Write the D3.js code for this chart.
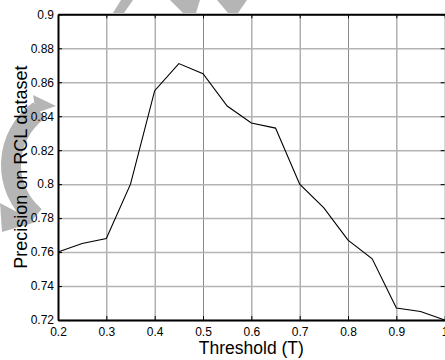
<!DOCTYPE html>
<html>
<head>
<meta charset="utf-8">
<script src="https://cdn.jsdelivr.net/npm/d3@7"></script>
<style>
body { margin: 0; background: #fff; }
svg { display: block; }
text { font-family: Arial, "Liberation Sans", sans-serif; fill: #000; }
</style>
</head>
<body>
<svg id="chart" width="445" height="360"></svg>
<script>
// values
var thresholds = [0.2, 0.25, 0.3, 0.35, 0.4, 0.45, 0.5, 0.55, 0.6, 0.65, 0.7, 0.75, 0.8, 0.85, 0.9, 0.95, 1.0];
var precision = [0.760, 0.765, 0.768, 0.800, 0.855, 0.871, 0.865, 0.846, 0.836, 0.833, 0.800, 0.786, 0.767, 0.756, 0.727, 0.725, 0.720];
var xTicks = [0.2, 0.3, 0.4, 0.5, 0.6, 0.7, 0.8, 0.9, 1];
var yTicks = [0.72, 0.74, 0.76, 0.78, 0.8, 0.82, 0.84, 0.86, 0.88, 0.9];

var svg = d3.select("#chart");
var boxLeft = 58, boxTop = 14.3, boxRight = 444.7, boxBottom = 320;
var w = boxRight - boxLeft, h = boxBottom - boxTop;

// grey watermark behind the axes (covered inside the plot box)
var mark = svg.append("g").attr("fill", "#b5b5b5");
mark.append("path")
    .attr("transform", "translate(78,165)")
    .attr("d", d3.arc().innerRadius(57).outerRadius(77).startAngle(-2.45).endAngle(-0.62)());
mark.append("path").attr("d", "M33,95L56,106L36,113Z");
mark.append("path").attr("d", "M0,203L36,222L2,232Z");
mark.append("path").attr("d", "M113,13L124,13L133,0L121,0Z");
mark.append("path").attr("d", "M170,0L200,0L196,13L183,13Z");
mark.append("path").attr("d", "M217,0L247,0L238,13L228,13Z");

var x = d3.scaleLinear().domain([0.2, 1]).range([0, w]);
var y = d3.scaleLinear().domain([0.72, 0.9]).range([h, 0]);

var g = svg.append("g").attr("transform", "translate(" + boxLeft + "," + boxTop + ")");
g.append("rect").attr("width", w).attr("height", h).attr("fill", "#fff");

// grid
var gx = g.append("g").attr("transform", "translate(0," + h + ")")
    .call(d3.axisBottom(x).tickValues(xTicks).tickSize(-h).tickFormat(""));
gx.select(".domain").remove();
gx.selectAll("line").attr("stroke", "#8a8a8a").attr("stroke-width", 1);
var gy = g.append("g")
    .call(d3.axisLeft(y).tickValues(yTicks).tickSize(-w).tickFormat(""));
gy.select(".domain").remove();
gy.selectAll("line").attr("stroke", "#b4b4b4").attr("stroke-width", 1.5);

// curve
g.append("path")
    .datum(thresholds.map(function (t, i) { return [t, precision[i]]; }))
    .attr("fill", "none")
    .attr("stroke", "#000")
    .attr("stroke-width", 1.1)
    .attr("d", d3.line().x(function (d) { return x(d[0]); }).y(function (d) { return y(d[1]); }));

// axes with inside ticks
var fmt = d3.format("~g");
var axB = g.append("g").attr("transform", "translate(0," + h + ")")
    .call(d3.axisBottom(x).tickValues(xTicks).tickSizeInner(-4).tickSizeOuter(0).tickPadding(7).tickFormat(fmt));
var axT = g.append("g")
    .call(d3.axisTop(x).tickValues(xTicks).tickSizeInner(-4).tickSizeOuter(0).tickFormat(""));
var axL = g.append("g")
    .call(d3.axisLeft(y).tickValues(yTicks).tickSizeInner(-4).tickSizeOuter(0).tickPadding(4).tickFormat(fmt));
var axR = g.append("g").attr("transform", "translate(" + w + ",0)")
    .call(d3.axisRight(y).tickValues(yTicks).tickSizeInner(-4).tickSizeOuter(0).tickFormat(""));
axR.select(".domain").remove();

[axB, axT, axL, axR].forEach(function (a) {
    a.selectAll(".domain").attr("stroke", "#000").attr("stroke-width", 2);
    a.selectAll(".tick line").attr("stroke", "#000").attr("stroke-width", 1);
    a.selectAll("text").attr("font-size", 12).attr("font-family", "Arial, 'Liberation Sans', sans-serif").attr("fill", "#000");
});

// axis titles
svg.append("text")
    .attr("x", boxLeft + w / 2)
    .attr("y", 354)
    .attr("text-anchor", "middle")
    .attr("font-size", 17.5)
    .text("Threshold (T)");

svg.append("text")
    .attr("transform", "translate(27," + (boxTop + h / 2) + ") rotate(-90)")
    .attr("text-anchor", "middle")
    .attr("font-size", 18)
    .text("Precision on RCL dataset");
</script>
</body>
</html>
